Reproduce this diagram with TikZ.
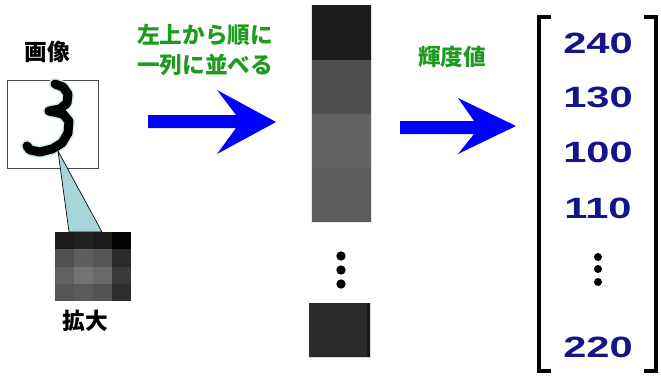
\documentclass[tikz,border=0pt]{standalone}
\usepackage{fontspec}
\setmainfont{Liberation Sans}
\newfontfamily\jp{Noto Sans CJK JP}
\definecolor{grn}{HTML}{1E9A1E}
\definecolor{navy}{HTML}{14148C}
\definecolor{arrblue}{HTML}{0000FF}
\definecolor{teal}{HTML}{A6D6D8}
\tikzset{
  jplabel/.style={font=\jp\bfseries\fontsize{17}{20}\selectfont, inner sep=0pt, align=center},
  num/.style={font=\bfseries\fontsize{22}{26}\selectfont, text=navy, inner sep=0pt},
  bigarrow/.style={fill=arrblue},
  bracketline/.style={line width=3pt, line cap=rect},
  dot/.style={circle, fill=black, inner sep=0pt, minimum size=7pt},
}
\newcommand{\wide}[1]{\scalebox{1.42}[1]{#1}}
\begin{document}
\begin{tikzpicture}[x=0.75pt,y=-0.75pt]
\useasboundingbox (0,0) rectangle (661,376);
% image box
\node[draw=black!70, line width=0.6pt, minimum width=91*0.75pt, minimum height=88*0.75pt, inner sep=0pt, anchor=north west] (img) at (7,80) {};
\def\threepath{(55,84) -- (63,87) -- (68,94) -- (67,103) -- (60,109) -- (49,111) -- (63,114) -- (69,121) -- (68,133) -- (62,143) -- (52,149) -- (40,152) -- (30,150) -- (27,146)}
\draw[teal!55, line width=12*0.75pt, line cap=round, line join=round] \threepath;
\draw[black, line width=9*0.75pt, line cap=round, line join=round] \threepath;
\node[jplabel] (lblimg) at (47,52) {画像};
% callout
\coordinate (apex) at (58,151);
\fill[teal, draw=black, line width=0.5pt] (apex) -- (69,232) -- (102,232) -- cycle;
% zoomed grid
\def\zx{55}\def\zy{232}\def\zw{19}\def\zh{17.25}
\foreach \r/\cols in {0/{1C1C1C,222222,1A1A1A,050505},1/{505050,5E5E5E,555555,2A2A2A},2/{616161,737373,6A6A6A,3A3A3A},3/{555555,5A5A5A,545454,2E2E2E}}{
  \foreach \c [count=\i from 0] in \cols {
    \definecolor{cc}{HTML}{\c}
    \fill[cc] (\zx+\i*\zw,\zy+\r*\zh) rectangle (\zx+\i*\zw+\zw,\zy+\r*\zh+\zh);
  }
}
\node[inner sep=0pt, minimum width=76*0.75pt, minimum height=69*0.75pt, anchor=north west] (zoombox) at (55,232) {};
\node[jplabel] (lblzoom) at (85,321) {拡大};
% green text
\node[jplabel, text=grn] (lblarr) at (205,50) {左上から順に\\[2pt]一列に並べる};
% arrow 1
\fill[bigarrow] (148,115) -- (236,115) -- (217,90) -- (276,122) -- (217,154) -- (236,128) -- (148,128) -- cycle;
% column
\fill[gray!20] (311,5) rectangle (372,223);
\fill[black!89] (312,5) rectangle (371,60);
\fill[black!69] (312,60) rectangle (371,114);
\fill[black!61] (312,114) rectangle (371,168);
\fill[black!64] (312,168) rectangle (371,222);
\node[dot] (c1) at (341,256) {};
\node[dot] (c2) at (341,270) {};
\node[dot] (c3) at (341,284) {};
\fill[gray!30] (309,303) rectangle (371,358);
\fill[black!83] (309,303) rectangle (370,357);
\fill[black!90] (367,303) rectangle (370,357);
% arrow 2
\node[jplabel, text=grn] (lbllum) at (452,57) {輝度値};
\fill[bigarrow] (400,121) -- (474,121) -- (458,98) -- (516,126) -- (458,154) -- (474,134) -- (400,134) -- cycle;
% matrix
\draw[bracketline] (549,17) -- (539,17) -- (539,371) -- (549,371);
\draw[bracketline] (646,17) -- (656,17) -- (656,371) -- (646,371);
\node[num] (n1) at (598,43) {\wide{240}};
\node[num] (n2) at (598,97) {\wide{130}};
\node[num] (n3) at (598,152) {\wide{100}};
\node[num] (n4) at (598,208) {\wide{110}};
\node[dot, minimum size=6pt] (d1) at (598,257) {};
\node[dot, minimum size=6pt] (d2) at (598,269) {};
\node[dot, minimum size=6pt] (d3) at (598,282) {};
\node[num] (n5) at (598,347) {\wide{220}};
\end{tikzpicture}
\end{document}
